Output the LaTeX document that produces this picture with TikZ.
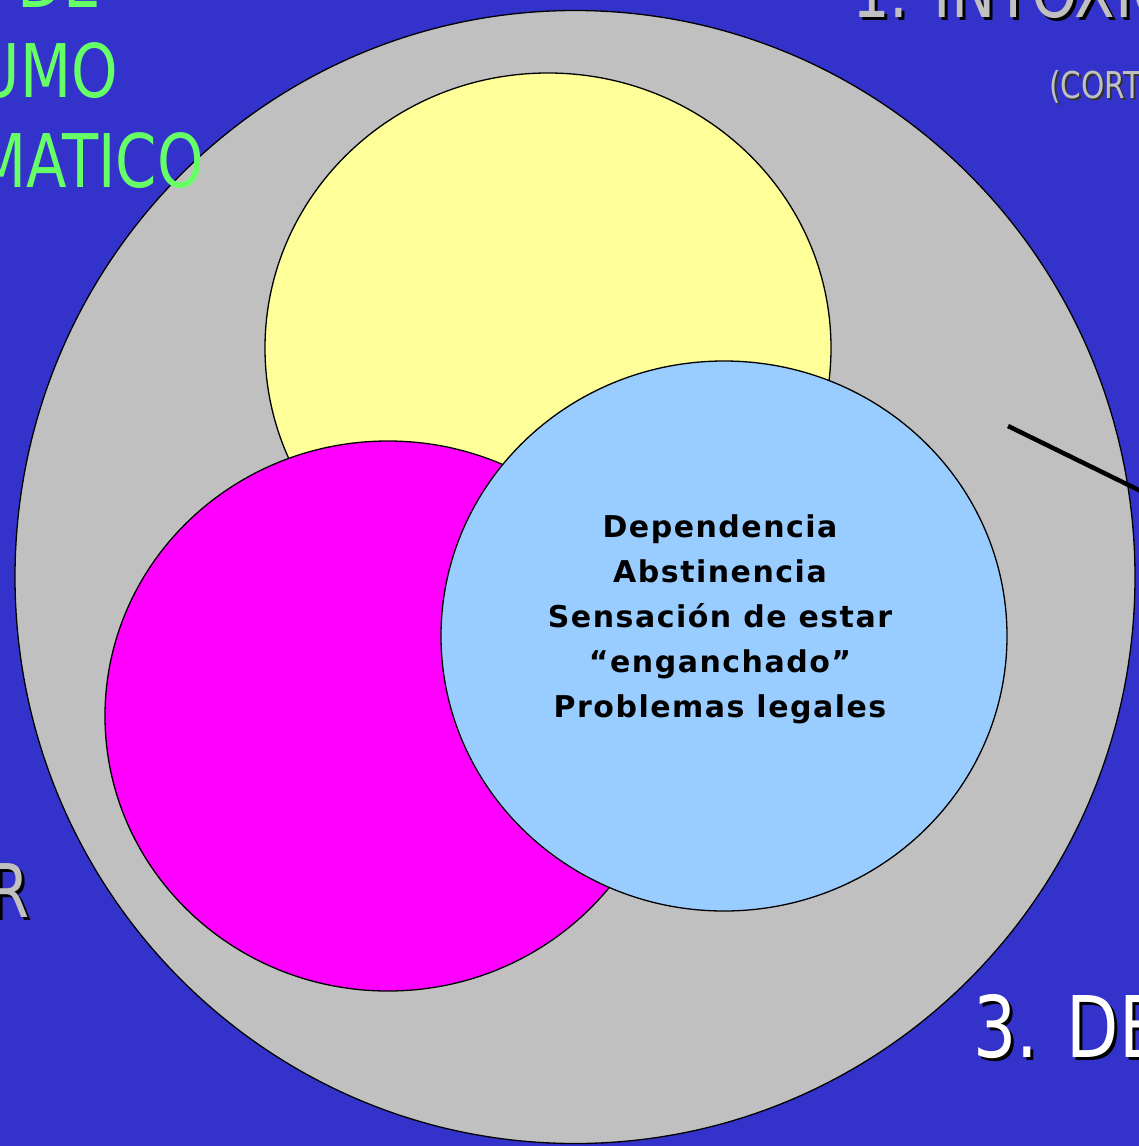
\documentclass[tikz,border=0pt]{standalone}
\usepackage{fontspec}
\setmainfont{DejaVu Sans}
\newfontfamily\bodyfont[LetterSpace=5]{DejaVu Sans}
\usetikzlibrary{shapes.geometric}
\definecolor{bgblue}{HTML}{3333CC}
\definecolor{outergray}{HTML}{C0C0C0}
\definecolor{softyellow}{HTML}{FFFF99}
\definecolor{hotmagenta}{HTML}{FF00FF}
\definecolor{skyblue}{HTML}{99CCFF}
\definecolor{titlegreen}{HTML}{66FF66}
\definecolor{titlegray}{HTML}{C0C0C0}
\begin{document}
\begin{tikzpicture}[x=1pt,y=-1pt,
  blob/.style={ellipse, draw=black, line width=1.3pt, inner sep=0pt},
  bigtxt/.style={inner sep=0pt, font=\fontsize{74}{80}\selectfont},
  hugetxt/.style={inner sep=0pt, font=\fontsize{85}{90}\selectfont},
  smalltxt/.style={inner sep=0pt, font=\fontsize{37}{40}\selectfont},
  bodytxt/.style={inner sep=0pt, align=center, text=black, font=\bodyfont\fontsize{30}{45}\bfseries\selectfont}]
\useasboundingbox (0,0) rectangle (1139,1146);
\begin{scope}
\clip (0,0) rectangle (1139,1146);
\fill[bgblue] (0,0) rectangle (1139,1146);
% circles
\node[blob, fill=outergray, minimum width=1120pt, minimum height=1133pt] (outer) at (575,577) {};
\node[blob, fill=softyellow, minimum width=566pt, minimum height=550pt] (yellow) at (548,348) {};
\node[blob, fill=hotmagenta, minimum width=566pt, minimum height=550pt] (magenta) at (388,716) {};
\node[blob, fill=skyblue, minimum width=566pt, minimum height=550pt] (blue) at (724,636) {};
% pointer line
\coordinate (lstart) at (1008,426);
\coordinate (lend) at (1200,520);
\draw[line width=4.5pt] (lstart) -- (lend);
% centre text
\node[bodytxt] (body) at (720,619) {Dependencia\\Abstinencia\\Sensación de estar\\“enganchado”\\Problemas legales};
% green title (left)
\node[bigtxt, text=titlegreen, anchor=base east] (gde) at (101,7) {\scalebox{0.8}[1]{DE}};
\node[bigtxt, text=titlegreen, anchor=base east] (gumo) at (118,97) {\scalebox{0.8}[1]{UMO}};
\node[bigtxt, text=titlegreen, anchor=base east] (gmatico) at (204,187) {\scalebox{0.8}[1]{MATICO}};
% top right gray title with shadow
\node[bigtxt, text=black, anchor=base west] (t1s) at (855,20) {\scalebox{0.8}[1]{1. INTOXIC}};
\node[bigtxt, text=titlegray, anchor=base west] (t1) at (852,17) {\scalebox{0.8}[1]{1. INTOXIC}};
\node[smalltxt, text=black!80, anchor=base west] (corts) at (1051,100) {\scalebox{0.8}[1]{(CORT}};
\node[smalltxt, text=titlegray, anchor=base west] (cort) at (1049,98) {\scalebox{0.8}[1]{(CORT}};
% left R
\node[bigtxt, text=black, anchor=base east] (rs) at (33,920) {\scalebox{0.8}[1]{R}};
\node[bigtxt, text=titlegray, anchor=base east] (r) at (30,917) {\scalebox{0.8}[1]{R}};
% bottom right white title
\node[hugetxt, text=black, anchor=base west] (t3s) at (976,1060) {\scalebox{0.8}[1]{3. DE}};
\node[hugetxt, text=white, anchor=base west] (t3) at (973,1057) {\scalebox{0.8}[1]{3. DE}};
\end{scope}
\end{tikzpicture}
\end{document}
